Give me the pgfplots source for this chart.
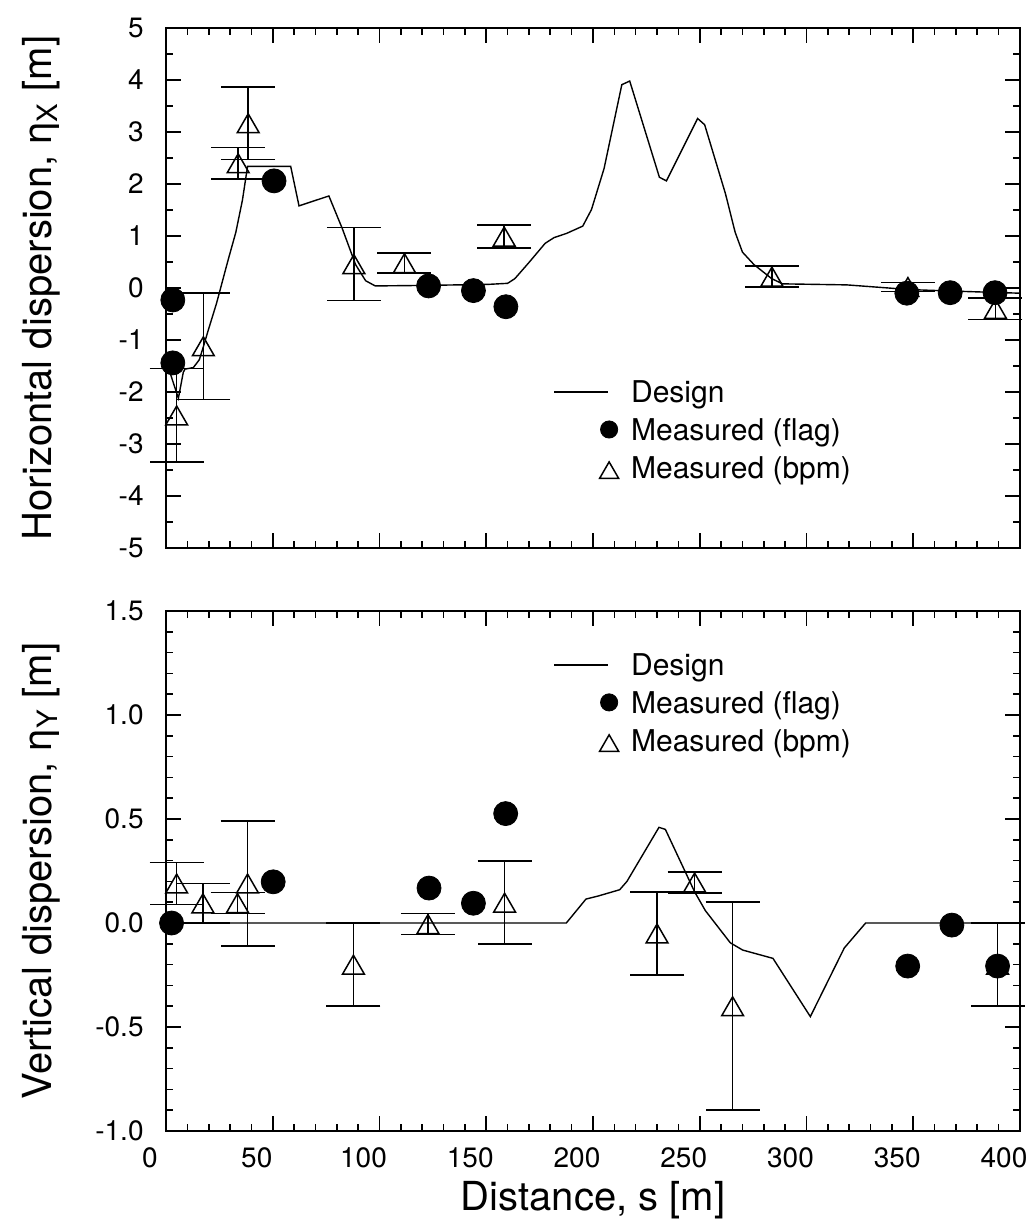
\documentclass[border=0pt]{standalone}
\usepackage{pgfplots}
\pgfplotsset{compat=1.18}
\usepackage{pgfplotstable}
\usepackage{fontspec}
\setmainfont{TeX Gyre Heros}

\pgfplotstableread{
x y
0 -1.55
1.9 -1.63
5.8 -2.12
8.1 -1.62
8.9 -1.56
12.8 -1.53
15.6 -1.38
17.5 -1.13
19.8 -0.81
23.7 -0.29
29.1 0.54
32.7 1.07
35.8 1.69
38.2 2.34
58.4 2.34
62.3 1.58
76.3 1.77
82.6 1.14
88.8 0.45
93.5 0.14
98 0.04
121.5 0.05
151 0.07
160 0.09
163.4 0.18
170 0.49
177.6 0.86
181.8 0.97
187.6 1.05
195.2 1.19
199.3 1.51
205.2 2.30
213.5 3.91
217.2 3.98
231.1 2.13
234.4 2.06
249 3.26
252.3 3.14
262 1.82
266.6 1.07
270 0.69
275.4 0.45
283.7 0.18
288.8 0.08
318.9 0.06
348.2 -0.03
369 -0.06
400 -0.10
}\topdesign

\pgfplotstableread{
x y
3.2 -0.23
3.2 -1.44
50.6 2.06
123 0.04
144 -0.05
159.2 -0.36
347 -0.10
367.3 -0.09
388.3 -0.09
}\topflag

\pgfplotstableread{
x y e
5.0 -2.45 0.90
17.5 -1.12 1.02
33.8 2.40 0.30
38.5 3.17 0.70
88.0 0.46 0.70
111.7 0.48 0.19
158.4 0.99 0.22
283.8 0.22 0.20
347.5 0.02 0.09
388.5 -0.40 0.21
}\topbpm

\pgfplotstableread{
x y
0 0
187.5 0
196.7 0.115
202.5 0.13
212.5 0.16
215.9 0.20
230.9 0.46
233.9 0.45
247.6 0.15
252.6 0.06
264.3 -0.095
270.1 -0.13
284.3 -0.17
301.8 -0.45
317.7 -0.12
327.7 0
400 0
}\botdesign

\pgfplotstableread{
x y
2.6 0
50.2 0.198
123.2 0.168
144 0.095
159.1 0.526
347.4 -0.207
368.1 -0.01
389.5 -0.207
}\botflag

\pgfplotstableread{
x y e
5.0 0.19 0.10
17.3 0.095 0.095
33.5 0.096 0.05
38.2 0.19 0.30
87.8 -0.20 0.20
122.7 -0.005 0.05
158.6 0.098 0.20
230.0 -0.05 0.20
247.6 0.195 0.05
265.4 -0.40 0.50
389.5 -0.20 0.20
}\botbpm

\pgfplotsset{
  myaxis/.style={
    scale only axis, width=427pt, height=260pt,
    xmin=0, xmax=400, clip=false,
    axis line style={line width=1pt},
    every tick/.style={line width=0.8pt, black},
    major tick length=7.5pt, minor tick length=3.5pt,
    tick align=inside,
    xtick={0,50,...,400}, minor x tick num=4,
    yticklabel style={font=\fontsize{14}{16}\selectfont, anchor=east, inner sep=0pt, xshift=-11pt},
    xticklabel style={font=\fontsize{14}{16}\selectfont, anchor=base, inner sep=0pt, yshift=-18pt, xshift=-8pt},
    legend style={draw=none, fill=none, inner sep=0pt, anchor=north west,
      row sep=4.5pt, column sep=5.5pt, font=\fontsize{15}{18}\selectfont,
      cells={anchor=base west},
      nodes={inner sep=0pt, text height=11pt, text depth=3.5pt}},
  },
  design/.style={black, line width=0.7pt, no marks,
    legend image code/.code={\path[draw=none, fill=none] (0pt,-3.5pt) rectangle (33pt,11pt);
      \draw[black, line width=0.7pt] (0pt,5pt) -- (27pt,5pt);}},
  flag/.style={only marks, mark=*, mark size=6pt, black,
    legend image code/.code={\path[draw=none, fill=none] (0pt,-3.5pt) rectangle (33pt,11pt);
      \draw[black, fill=black, mark=*, mark size=4.3pt, only marks] plot coordinates {(27.5pt,5.3pt)};}},
  bpm/.style={only marks, mark=triangle, mark size=6.3pt, black, line width=0.75pt,
    mark options={yshift=-1.6pt, fill=none},
    legend image code/.code={\path[draw=none, fill=none] (0pt,-3.5pt) rectangle (33pt,11pt);
      \draw[black, fill=none, line width=0.75pt, mark=triangle, mark size=5.5pt, only marks] plot coordinates {(27.5pt,4.2pt)};},
    error bars/.cd, y dir=both, y explicit,
    error bar style={line width=0.75pt, black},
    error mark options={rotate=90, mark size=13.5pt, line width=0.75pt, black}},
}

\begin{document}
\begin{tikzpicture}
\useasboundingbox (0,0) rectangle (518pt,-611.5pt);

\begin{axis}[myaxis, name=top, at={(83pt,-14pt)}, anchor=north west,
  ymin=-5, ymax=5, ytick={-5,-4,-3,-2,-1,0,1,2,3,4,5},
  yticklabels={-5,-4,-3,-2,-1,0,1,2,3,4,5}, minor y tick num=1,
  xticklabels={},
  legend style={at={(0.4532,0.3237)}}]
\addplot[design] table[x=x,y=y] {\topdesign};
\addlegendentry{Design}
\addplot[flag] table[x=x,y=y] {\topflag};
\addlegendentry{Measured (flag)}
\addplot[bpm] table[x=x,y=y,y error=e] {\topbpm};
\addlegendentry{Measured (bpm)}
\end{axis}

\begin{axis}[myaxis, name=bot, at={(83pt,-305.5pt)}, anchor=north west,
  ymin=-1, ymax=1.5, ytick={-1,-0.5,0,0.5,1,1.5},
  yticklabels={-1.0,-0.5,0.0,0.5,1.0,1.5}, minor y tick num=4,
  xticklabels={0,50,100,150,200,250,300,350,400},
  legend style={at={(0.4532,0.92)}}]
\addplot[design] table[x=x,y=y] {\botdesign};
\addlegendentry{Design}
\addplot[flag] table[x=x,y=y] {\botflag};
\addlegendentry{Measured (flag)}
\addplot[bpm] table[x=x,y=y,y error=e] {\botbpm};
\addlegendentry{Measured (bpm)}
\end{axis}

\node[rotate=90, anchor=center, font=\fontsize{20}{24}\selectfont]
  at ([xshift=-62.5pt]top.west) {Horizontal dispersion, η\textsubscript{X} [m]};
\node[rotate=90, anchor=center, font=\fontsize{20}{24}\selectfont]
  at ([xshift=-62.5pt]bot.west) {Vertical dispersion, η\textsubscript{Y} [m]};
\node[anchor=base, font=\fontsize{20}{24}\selectfont]
  at ([yshift=-39.5pt]bot.south) {Distance, s [m]};
\end{tikzpicture}
\end{document}
